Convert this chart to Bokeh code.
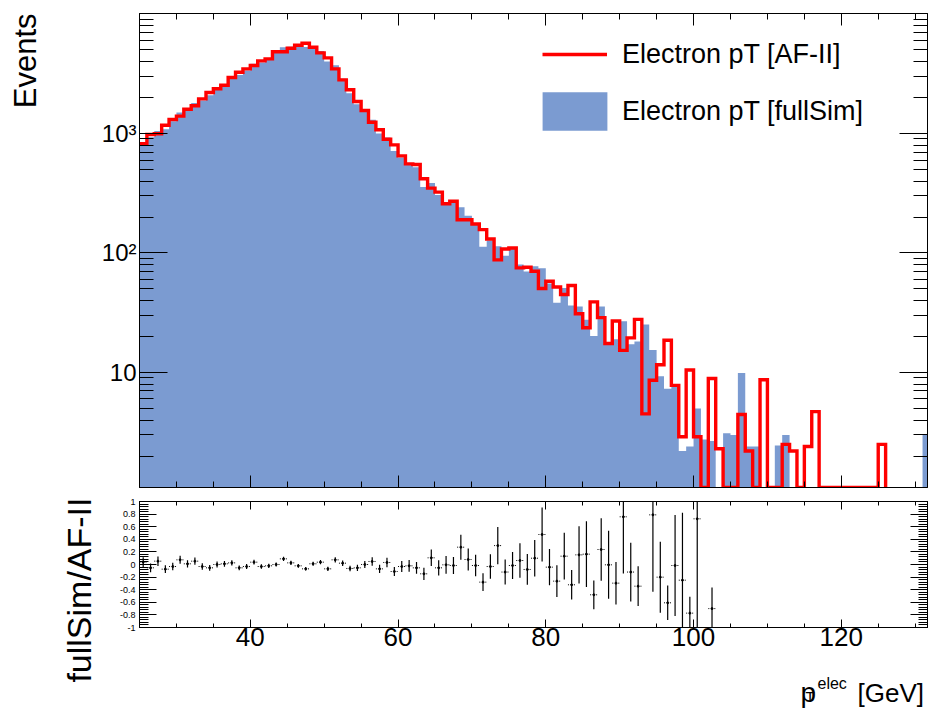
import math
from bokeh.plotting import figure
from bokeh.layouts import column, row
from bokeh.models import (Range1d, FixedTicker, LogAxis, LinearAxis, Label,
                          Legend, LegendItem)
from bokeh.embed import file_html
from bokeh.resources import INLINE

# ---------------- data ----------------
bin_low = list(range(25, 132))  # 1 GeV bins, lower edges

af2 = [820, 981, 994, 1174, 1310, 1397, 1597, 1706, 1950, 2203,
       2366, 2536, 2942, 3260, 3477, 3706, 4055, 4214, 4826, 4826,
       5176, 5480, 5700, 5272, 4733, 4297, 3477, 2813, 2322, 1853,
       1557, 1244, 1074, 896, 803, 650, 557, 551, 418, 349,
       323, 258, 271, 190, 190, 175, 157, 131, 87.6, 108,
       110, 75, 76, 70.4, 50.5, 58, 52, 45, 53.5, 31,
       23.7, 39, 28.8, 17.5, 27, 15.3, 19.5, 27.8, 4.5, 8.6,
       11.6, 18.6, 7.8, 2.9, 10.5, 2.9, 0, 8.9, 2.3, 0,
       0, 4.45, 2.2, 0, 8.7, 0, 0, 2.5, 2.2, 0,
       2.4, 4.7, 0, 0, 0, 0, 0, 0, 0, 0,
       2.5, 0, 0, 0, 0, 0, 0]

fullsim = [850, 929, 1047, 1087, 1268, 1500, 1615, 1796, 1888, 2086,
           2366, 2564, 3018, 3087, 3366, 3843, 3925, 4126, 4826, 5260,
           5311, 5365, 5307, 5330, 4908, 4000, 3734, 2872, 2176, 1755,
           1557, 1304, 1000, 925, 714, 629, 545, 522, 356, 386,
           306, 257, 267, 242, 205, 172, 113, 127, 114, 95,
           108, 80, 70, 77.4, 74.5, 55.6, 38.3, 51, 36.3, 35.7,
           27.6, 20.2, 35.7, 17.4, 19, 26.9, 17.2, 18.2, 25.2, 15.4,
           9.3, 7.3, 7.7, 2.2, 2.4, 5.0, 2.75, 2.67, 0, 3.1,
           3.0, 9.9, 2.4, 2.4, 0, 0, 2.45, 3.0, 0, 0,
           0, 0, 0, 0, 0, 0, 0, 0, 0, 0,
           0, 0, 0, 0, 0, 0, 3.0]

ratio_bins = list(range(25, 93)) + [94, 95, 96, 97, 98, 99, 100, 102]
ratio_vals = [0.037, -0.053, 0.053, -0.074, -0.032, 0.074, 0.011, 0.053, -0.032, -0.053,
              0.0, 0.011, 0.026, -0.053, -0.032, 0.037, -0.032, -0.021, 0.0, 0.09,
              0.026, -0.021, -0.069, 0.011, 0.037, -0.069, 0.074, 0.021, -0.063, -0.053,
              0.0, 0.048, -0.069, 0.032, -0.111, -0.032, -0.021, -0.053, -0.148, 0.106,
              -0.053, -0.005, -0.016, 0.275, 0.079, -0.016, -0.28, -0.032, 0.30, -0.12,
              -0.016, 0.063, -0.079, 0.10, 0.476, -0.042, -0.264, 0.132, -0.322, 0.153,
              0.164, -0.481, 0.238, -0.005, -0.296, 0.757, -0.12, -0.344,
              0.788, -0.201, -0.608, -0.016, -0.249, -0.772, 0.725, -0.70]
ratio_errs = [0.08, 0.069, 0.075, 0.062, 0.061, 0.064, 0.057, 0.057, 0.050, 0.046,
              0.047, 0.045, 0.042, 0.038, 0.038, 0.038, 0.035, 0.034, 0.033, 0.035,
              0.032, 0.030, 0.028, 0.031, 0.034, 0.033, 0.041, 0.043, 0.045, 0.050,
              0.057, 0.066, 0.065, 0.077, 0.073, 0.087, 0.094, 0.093, 0.098, 0.131,
              0.121, 0.140, 0.136, 0.198, 0.174, 0.169, 0.142, 0.193, 0.296, 0.198,
              0.213, 0.273, 0.244, 0.29, 0.43, 0.288, 0.251, 0.37, 0.233, 0.453,
              0.522, 0.228, 0.496, 0.539, 0.337, 0.90, 0.466, 0.316,
              1.22, 0.563, 0.274, 0.80, 1.07, 0.261, 2.04, 0.335]

x_major = [40, 60, 80, 100, 120]
x_minor = list(range(25, 135, 5))
y_major_top = [10, 100, 1000]
y_minor_top = [m * d for d in (1, 10, 100, 1000) for m in range(2, 10)]
y_labels_top = {10: "10", 100: "10\u00b2", 1000: "10\u00b3"}
r_major = [-1.0, -0.8, -0.6, -0.4, -0.2, 0.0, 0.2, 0.4, 0.6, 0.8, 1.0]
r_minor = [round(-1 + 0.04 * i, 2) for i in range(51)]
r_labels = {-1.0: "-1", -0.8: "-0.8", -0.6: "-0.6", -0.4: "-0.4", -0.2: "-0.2", 0.0: "0",
            0.2: "0.2", 0.4: "0.4", 0.6: "0.6", 0.8: "0.8", 1.0: "1"}

label_red = "Electron pT [AF-II]"
label_blue = "Electron pT [fullSim]"
y_title_top = "Events"
y_title_ratio = "fullSim/AF-II"

# ---------------- style ----------------
BLUE = "#7B9BD1"
RED = "#FF0000"
FONT = "Liberation Sans"

x_lo, x_hi = 25, 131.67
y_lo, y_hi = 1.09, 10100

LW = 98             # width of the left title strip
W = 932 - LW        # width of the plotting column
H1, H2, H3 = 493, 174, 41
HT = H1 + H2 + H3

edges = [b for b in bin_low] + [bin_low[-1] + 1]


def blank_fig(width, height):
    f = figure(width=width, height=height, x_range=Range1d(0, width), y_range=Range1d(0, height),
               output_backend="svg", toolbar_location=None, x_axis_location=None,
               y_axis_location=None, min_border=0, min_border_left=0, min_border_right=0,
               min_border_top=0, min_border_bottom=0)
    f.grid.visible = False
    f.outline_line_color = None
    f.background_fill_color = "white"
    f.border_fill_color = "white"
    if "frame_align" in f.properties():
        f.frame_align = False
    return f


# ---------------- top pad ----------------
p = figure(width=W, height=H1, x_range=Range1d(x_lo, x_hi), y_range=Range1d(y_lo, y_hi),
           y_axis_type="log", output_backend="svg", toolbar_location=None,
           min_border_left=137 - LW, min_border_right=5, min_border_top=13, min_border_bottom=6)
p.grid.visible = False
p.outline_line_color = "black"
p.outline_line_width = 1
p.background_fill_color = "white"
p.border_fill_color = "white"

blue_top = [max(v, y_lo) for v in fullsim]
blue_r = p.varea_step(x=edges, y1=[y_lo] * len(edges), y2=blue_top + [blue_top[-1]],
                      step_mode="after", fill_color=BLUE)

last = max(i for i, v in enumerate(af2) if v > 0)
rx, ry = [], []
for i in range(last + 1):
    v = max(af2[i], y_lo)
    rx += [edges[i], edges[i + 1]]
    ry += [v, v]
rx.append(edges[last + 1])
ry.append(y_lo)
red_r = p.line(rx, ry, line_color=RED, line_width=3.4, line_join="miter")


def style_axis(ax, tin, tmin, labels=True):
    ax.major_tick_in = tin
    ax.major_tick_out = 0
    ax.minor_tick_in = tmin
    ax.minor_tick_out = 0
    ax.axis_line_color = "black"
    ax.major_tick_line_color = "black"
    ax.minor_tick_line_color = "black"
    if not labels:
        ax.major_label_text_color = None
        ax.major_label_text_font_size = "1px"
        ax.major_label_standoff = 0


xb = p.xaxis[0]
xb.ticker = FixedTicker(ticks=x_major, minor_ticks=x_minor)
style_axis(xb, 12, 6, labels=False)
xt = LinearAxis(ticker=FixedTicker(ticks=x_major, minor_ticks=x_minor))
style_axis(xt, 12, 6, labels=False)
p.add_layout(xt, "above")

yl = p.yaxis[0]
yl.ticker = FixedTicker(ticks=y_major_top, minor_ticks=y_minor_top)
style_axis(yl, 28, 14)
yl.major_label_overrides = y_labels_top
yl.major_label_text_font = FONT
yl.major_label_text_font_size = "24px"
yl.major_label_text_color = "black"
yl.major_label_standoff = 3
yr = LogAxis(ticker=FixedTicker(ticks=y_major_top, minor_ticks=y_minor_top))
style_axis(yr, 28, 14, labels=False)
p.add_layout(yr, "right")

leg_common = dict(padding=0, margin=0, border_line_color=None, background_fill_alpha=0,
                  label_text_font=FONT, label_text_font_size="27px",
                  label_text_color="black", label_text_baseline="middle")
leg1 = Legend(items=[LegendItem(label=label_red, renderers=[red_r])],
              location=(403, 414), glyph_width=65, glyph_height=38, label_height=38,
              label_standoff=15, **leg_common)
leg2 = Legend(items=[LegendItem(label=label_blue, renderers=[blue_r])],
              location=(395, 352), glyph_width=81, glyph_height=48, label_height=48,
              label_standoff=7, **leg_common)
p.add_layout(leg1)
p.add_layout(leg2)

# ---------------- ratio pad ----------------
p2 = figure(width=W, height=H2, x_range=p.x_range, y_range=Range1d(-1, 1),
            output_backend="svg", toolbar_location=None,
            min_border_left=137 - LW, min_border_right=5, min_border_top=8, min_border_bottom=40)
p2.grid.visible = False
p2.outline_line_color = "black"
p2.background_fill_color = "white"
p2.border_fill_color = "white"

centers = [b + 0.5 for b in ratio_bins]
p2.segment(x0=centers, y0=[v - e for v, e in zip(ratio_vals, ratio_errs)],
           x1=centers, y1=[v + e for v, e in zip(ratio_vals, ratio_errs)],
           line_color="black", line_width=1.2)
p2.segment(x0=[b for b in ratio_bins], y0=ratio_vals,
           x1=[b + 1 for b in ratio_bins], y1=ratio_vals,
           line_color="black", line_width=1, line_dash="1 2")
p2.scatter(centers, ratio_vals, size=2, color="black")

xb2 = p2.xaxis[0]
xb2.ticker = FixedTicker(ticks=x_major, minor_ticks=x_minor)
style_axis(xb2, 8, 4)
xb2.major_label_text_font = FONT
xb2.major_label_text_font_size = "26px"
xb2.major_label_text_color = "black"
xb2.major_label_standoff = 0
xt2 = LinearAxis(ticker=FixedTicker(ticks=x_major, minor_ticks=x_minor))
style_axis(xt2, 8, 4, labels=False)
p2.add_layout(xt2, "above")

yl2 = p2.yaxis[0]
yl2.ticker = FixedTicker(ticks=r_major, minor_ticks=r_minor)
style_axis(yl2, 17, 9)
yl2.major_label_overrides = r_labels
yl2.major_label_text_font = FONT
yl2.major_label_text_font_size = "9px"
yl2.major_label_text_color = "black"
yl2.major_label_standoff = 4
yr2 = LinearAxis(ticker=FixedTicker(ticks=r_major, minor_ticks=r_minor))
style_axis(yr2, 17, 9, labels=False)
p2.add_layout(yr2, "right")

# ---------------- title strips ----------------
left = blank_fig(LW, HT)
left.add_layout(Label(x=25, y=HT - 13, x_units="screen", y_units="screen",
                      text=y_title_top, angle=math.pi / 2, text_align="right",
                      text_baseline="middle", text_font=FONT, text_font_size="31px",
                      text_color="black"))
left.add_layout(Label(x=78, y=HT - 497, x_units="screen", y_units="screen",
                      text=y_title_ratio, angle=math.pi / 2, text_align="right",
                      text_baseline="middle", text_font=FONT, text_font_size="34px",
                      text_color="black"))

bottom = blank_fig(W, H3)
bottom.add_layout(Label(x=800 - LW, y=16, x_units="screen", y_units="screen", text="p",
                        text_font=FONT, text_font_size="28px", text_baseline="alphabetic",
                        text_color="black"))
bottom.add_layout(Label(x=817 - LW, y=25, x_units="screen", y_units="screen", text="elec",
                        text_font=FONT, text_font_size="16px", text_baseline="alphabetic",
                        text_color="black"))
bottom.add_layout(Label(x=805 - LW, y=12, x_units="screen", y_units="screen", text="T",
                        text_font=FONT, text_font_size="15px", text_baseline="alphabetic",
                        text_color="black"))
bottom.add_layout(Label(x=857 - LW, y=16, x_units="screen", y_units="screen", text="[GeV]",
                        text_font=FONT, text_font_size="26px", text_baseline="alphabetic",
                        text_color="black"))

layout = row(left, column(p, p2, bottom, spacing=0), spacing=0)
open("out.html", "w").write(file_html(layout, INLINE))
